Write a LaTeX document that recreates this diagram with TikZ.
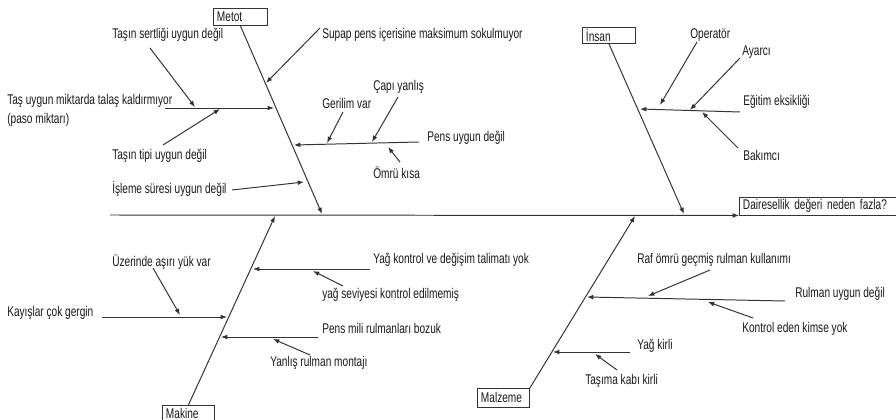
\documentclass[tikz,border=0pt]{standalone}
\usepackage{fontspec}
\setmainfont{Liberation Sans}[FakeStretch=0.72]
\usetikzlibrary{arrows.meta}

\begin{document}
\begin{tikzpicture}[
  x=0.025cm,y=-0.025cm,
  >={Latex[length=4.5pt,width=3.4pt]},
  cause/.style={anchor=west,inner sep=0pt,text=black!90,font=\fontsize{10}{12}\selectfont},
  box/.style={draw=black!80,line width=0.6pt,anchor=north west,inner xsep=2.5pt,inner ysep=0pt,
    minimum height=0.425cm,align=left,text=black!90,font=\fontsize{10}{12}\selectfont},
  bone/.style={->,black!80,line width=0.7pt}
]

\useasboundingbox (0,0) rectangle (896,420);

% head and spine
\node[box,text width=3.774cm,minimum height=0.45cm,anchor=south west] (effect) at (739,215.5) {Dairesellik değeri neden fazla?};
\coordinate (spine-s) at (110,215);
\draw[bone] (spine-s) -- (effect.south west);

% category boxes
\node[box,text width=1.174cm] (metot) at (213,8) {Metot};
\node[box,text width=1.149cm,minimum height=0.4cm] (insan) at (582,27) {İnsan};
\node[box,text width=1.124cm] (makine) at (162,405) {Makine};
\node[box,text width=1.124cm,minimum height=0.475cm] (malzeme) at (477,388) {Malzeme};

\coordinate (metot-e) at (322,214);
\coordinate (insan-e) at (684,214);
\coordinate (makine-e) at (275,216);
\coordinate (malzeme-e) at (635,216);
\draw[bone] (metot.south) -- (metot-e);
\draw[bone] (insan.south) -- (insan-e);
\draw[bone] (makine.north) -- (makine-e);
\draw[bone] (malzeme.north east) -- (malzeme-e);

% Metot
\node[cause] (sertlik) at (112,35) {Taşın sertliği uygun değil};
\node[cause] (talas) at (7,101) {Taş uygun miktarda talaş kaldırmıyor};
\node[cause] (paso) at (7,120) {(paso miktarı)};
\node[cause] (tipi) at (112,156) {Taşın tipi uygun değil};
\node[cause] (isleme) at (112,189) {İşleme süresi uygun değil};
\node[cause] (supap) at (322,35) {Supap pens içerisine maksimum sokulmuyor};
\node[cause] (pens) at (427,138) {Pens uygun değil};
\node[cause] (gerilim) at (322,103) {Gerilim var};
\node[cause] (capi) at (373,87) {Çapı yanlış};
\node[cause] (omru) at (373,173) {Ömrü kısa};

\coordinate (talas-s) at (165,108);  \coordinate (talas-e) at (274,108);
\coordinate (sertlik-s) at (150,48); \coordinate (sertlik-e) at (195,107);
\coordinate (tipi-s) at (163,145);   \coordinate (tipi-e) at (220,109);
\coordinate (isleme-s) at (232,190); \coordinate (isleme-e) at (304,182);
\coordinate (supap-s) at (320,28);   \coordinate (supap-e) at (266,83);
\coordinate (pens-s) at (419,142);   \coordinate (pens-e) at (294,145);
\coordinate (gerilim-s) at (343,112); \coordinate (gerilim-e) at (327,143);
\coordinate (capi-s) at (398,97);    \coordinate (capi-e) at (372,142);
\coordinate (omru-s) at (400,162);   \coordinate (omru-e) at (388,147);
\draw[bone] (talas-s) -- (talas-e);
\draw[bone] (sertlik-s) -- (sertlik-e);
\draw[bone] (tipi-s) -- (tipi-e);
\draw[bone] (isleme-s) -- (isleme-e);
\draw[bone] (supap-s) -- (supap-e);
\draw[bone] (pens-s) -- (pens-e);
\draw[bone] (gerilim-s) -- (gerilim-e);
\draw[bone] (capi-s) -- (capi-e);
\draw[bone] (omru-s) -- (omru-e);

% İnsan
\node[cause] (operator) at (690,35) {Operatör};
\node[cause] (ayarci) at (742,52) {Ayarcı};
\node[cause] (egitim) at (743,102) {Eğitim eksikliği};
\node[cause] (bakimci) at (743,155) {Bakımcı};

\coordinate (egitim-s) at (740,112);   \coordinate (egitim-e) at (640,109);
\coordinate (operator-s) at (697,42);  \coordinate (operator-e) at (660,105);
\coordinate (ayarci-s) at (740,58);    \coordinate (ayarci-e) at (690,110);
\coordinate (bakimci-s) at (738,148);  \coordinate (bakimci-e) at (702,112);
\draw[bone] (egitim-s) -- (egitim-e);
\draw[bone] (operator-s) -- (operator-e);
\draw[bone] (ayarci-s) -- (ayarci-e);
\draw[bone] (bakimci-s) -- (bakimci-e);

% Makine
\node[cause] (yagkontrol) at (373,260) {Yağ kontrol ve değişim talimatı yok};
\node[cause] (seviye) at (322,295) {yağ seviyesi kontrol edilmemiş};
\node[cause] (kayis) at (7,313) {Kayışlar çok gergin};
\node[cause] (asiri) at (112,262) {Üzerinde aşırı yük var};
\node[cause] (mili) at (322,328) {Pens mili rulmanları bozuk};
\node[cause] (montaj) at (270,363) {Yanlış rulman montajı};

\coordinate (yagkontrol-s) at (370,269); \coordinate (yagkontrol-e) at (253,269);
\coordinate (seviye-s) at (343,286);     \coordinate (seviye-e) at (313,271);
\coordinate (kayis-s) at (102,317);      \coordinate (kayis-e) at (227,317);
\coordinate (asiri-s) at (153,268);      \coordinate (asiri-e) at (180,315);
\coordinate (mili-s) at (318,337);       \coordinate (mili-e) at (221,337);
\coordinate (montaj-s) at (310,355);     \coordinate (montaj-e) at (273,339);
\draw[bone] (yagkontrol-s) -- (yagkontrol-e);
\draw[bone] (seviye-s) -- (seviye-e);
\draw[bone] (kayis-s) -- (kayis-e);
\draw[bone] (asiri-s) -- (asiri-e);
\draw[bone] (mili-s) -- (mili-e);
\draw[bone] (montaj-s) -- (montaj-e);

% Malzeme
\node[cause] (raf) at (637,260) {Raf ömrü geçmiş rulman kullanımı};
\node[cause] (rulman) at (795,294) {Rulman uygun değil};
\node[cause] (kimse) at (742,329) {Kontrol eden kimse yok};
\node[cause] (yagkirli) at (637,346) {Yağ kirli};
\node[cause] (kabi) at (585,381) {Taşıma kabı kirli};

\coordinate (rulman-s) at (785,301);   \coordinate (rulman-e) at (587,297);
\coordinate (raf-s) at (710,270);      \coordinate (raf-e) at (648,296);
\coordinate (kimse-s) at (753,318);    \coordinate (kimse-e) at (708,302);
\coordinate (yagkirli-s) at (630,352); \coordinate (yagkirli-e) at (553,352);
\coordinate (kabi-s) at (617,370);     \coordinate (kabi-e) at (595,354);
\draw[bone] (rulman-s) -- (rulman-e);
\draw[bone] (raf-s) -- (raf-e);
\draw[bone] (kimse-s) -- (kimse-e);
\draw[bone] (yagkirli-s) -- (yagkirli-e);
\draw[bone] (kabi-s) -- (kabi-e);

\end{tikzpicture}
\end{document}
